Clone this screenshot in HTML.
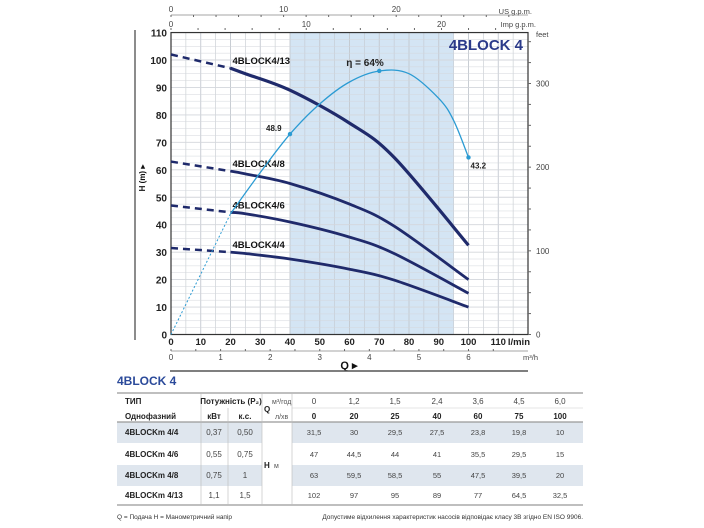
<!DOCTYPE html>
<html><head><meta charset="utf-8"><style>
body{margin:0;background:#fff;width:704px;height:528px;overflow:hidden}
svg{display:block;font-family:"Liberation Sans",sans-serif}
</style></head><body>
<svg id="chart" width="704" height="528" viewBox="0 0 704 528">
<g id="grid"></g>
<g id="marks"></g>
<g id="axes"></g>
<g id="table"></g>
</svg>
<script>
const flows = [0, 20, 25, 40, 60, 75, 100];
const flowsM3 = ["0","1,2","1,5","2,4","3,6","4,5","6,0"];
const modelNames = ["4BLOCK4/4","4BLOCK4/6","4BLOCK4/8","4BLOCK4/13"];
const head44 = [31.5, 30, 29.5, 27.5, 23.8, 19.8, 10];
const head46 = [47, 44.5, 44, 41, 35.5, 29.5, 15];
const head48 = [63, 59.5, 58.5, 55, 47.5, 39.5, 20];
const head413 = [102, 97, 95, 89, 77, 64.5, 32.5];
const effQ = [0, 20, 30, 40, 50, 60, 70, 80, 90, 95, 100];
const effH = [0, 44, 59, 73, 84, 92, 96, 95, 86, 78, 64.5];
const effLabels = ["48.9", "η = 64%", "43.2"];
const tableModels = ["4BLOCKm 4/4","4BLOCKm 4/6","4BLOCKm 4/8","4BLOCKm 4/13"];
const kw = ["0,37","0,55","0,75","1,1"];
const hp = ["0,50","0,75","1","1,5"];
const lminTicks = [0,10,20,30,40,50,60,70,80,90,100,110];
const hTicks = [0,10,20,30,40,50,60,70,80,90,100,110];
const feetTicks = [0,100,200,300];
const m3Ticks = [0,1,2,3,4,5,6];

const NS="http://www.w3.org/2000/svg";
const X0=171, PX=2.975, Y0=334.5, PY=2.745;
const xs=q=>X0+q*PX, ys=h=>Y0-h*PY;
function el(parent,tag,attrs,text){const e=document.createElementNS(NS,tag);for(const k in attrs)e.setAttribute(k,attrs[k]);if(text!==undefined)e.textContent=text;document.getElementById(parent).appendChild(e);return e;}
const DARK="#1f2a6b", LB="#2b9bd3";

let r=el("grid","rect",{x:xs(40),y:ys(110),width:xs(95)-xs(40),height:ys(0)-ys(110),fill:"#d4e5f4"});


for(let q=0;q<=120;q+=5){el("grid","line",{x1:xs(q),x2:xs(q),y1:ys(110),y2:ys(0),stroke:"#c3c8cf","stroke-width":q%10===0?0.9:0.6});}
for(let h=0;h<=110;h+=2.5){el("grid","line",{x1:xs(0),x2:xs(120),y1:ys(h),y2:ys(h),stroke:"#d3d6db","stroke-width":h%10===0?0.9:0.5});}
el("grid","rect",{x:xs(0),y:ys(110),width:xs(120)-xs(0),height:ys(0)-ys(110),fill:"none",stroke:"#333","stroke-width":1.2});

function smooth(qs,hs,from,to){const pts=[];qs.forEach((q,i)=>{if(q>=from&&q<=to)pts.push([xs(q),ys(hs[i])]);});let d="M"+pts[0][0]+","+pts[0][1];for(let i=0;i<pts.length-1;i++){const p0=pts[i-1]||pts[i],p1=pts[i],p2=pts[i+1],p3=pts[i+2]||p2;d+=" C"+(p1[0]+(p2[0]-p0[0])/6).toFixed(1)+","+(p1[1]+(p2[1]-p0[1])/6).toFixed(1)+" "+(p2[0]-(p3[0]-p1[0])/6).toFixed(1)+","+(p2[1]-(p3[1]-p1[1])/6).toFixed(1)+" "+p2[0].toFixed(1)+","+p2[1].toFixed(1);}return d;}
const heads=[head44,head46,head48,head413];
heads.forEach((hs,i)=>{
  let d=el("marks","line",{x1:xs(0),y1:ys(hs[0]),x2:xs(20),y2:ys(hs[1]),stroke:DARK,"stroke-width":2.5,"stroke-dasharray":"7,5"});
  
  
  let p=el("marks","path",{d:smooth(flows,hs,20,100),fill:"none",stroke:DARK,"stroke-width":i===3?3.2:2.8});
  
  
  let t=el("marks","text",{x:xs(20)+2,y:ys(hs[1])-4,"font-size":9.5,"font-weight":"bold",fill:"#111"},modelNames[i]);
  
  
});
let ed=el("marks","path",{d:smooth(effQ,effH,0,20),fill:"none",stroke:LB,"stroke-width":1,"stroke-dasharray":"2,2"});


let ep=el("marks","path",{d:smooth(effQ,effH,20,100),fill:"none",stroke:LB,"stroke-width":1.3});


const effPts=[[40,73,-24,-3],[70,96,-33,-5],[100,64.5,2,11]];
effPts.forEach((pp,i)=>{
  const qi=effQ.indexOf(pp[0]);const hv=effH[qi];
  let c=el("marks","circle",{cx:xs(pp[0]),cy:ys(hv),r:2.2,fill:LB});
  
  
  let t=el("marks","text",{x:xs(pp[0])+pp[2],y:ys(hv)+pp[3],"font-size":i===1?10:8,"font-weight":"bold",fill:"#222"},effLabels[i]);
  
  
});
let tt=el("marks","text",{x:523,y:50,"font-size":15,"font-weight":"bold",fill:"#2b3a8a","text-anchor":"end"},"4BLOCK 4");



hTicks.forEach(h=>{el("axes","text",{x:167,y:ys(h)+4,"font-size":10,"font-weight":"bold","text-anchor":"end",fill:"#222"},h);});
lminTicks.forEach(q=>{el("axes","text",{x:xs(q),y:345,"font-size":9.5,"font-weight":"bold","text-anchor":"middle",fill:"#222"},q);});
el("axes","text",{x:530,y:345,"font-size":9.5,"font-weight":"bold","text-anchor":"end",fill:"#222"},"l/min");
el("axes","line",{x1:xs(0),x2:xs(120),y1:351,y2:351,stroke:"#888","stroke-width":0.8});
for(let m=0;m<=6.5;m+=0.5){el("axes","line",{x1:xs(m*16.667),x2:xs(m*16.667),y1:349,y2:351,stroke:"#666"});}
m3Ticks.forEach(m=>{el("axes","text",{x:xs(m*16.667),y:360,"font-size":8,"text-anchor":"middle",fill:"#444"},m);});
el("axes","text",{x:538,y:360,"font-size":7.5,"text-anchor":"end",fill:"#444"},"m³/h");
let ql=el("axes","text",{x:349,y:369,"font-size":11,"font-weight":"bold","text-anchor":"middle",fill:"#111"},"Q   ▸");


el("axes","line",{x1:170,x2:528,y1:371,y2:371,stroke:"#555","stroke-width":1.5});
el("axes","line",{x1:135,x2:135,y1:30,y2:340,stroke:"#666","stroke-width":1.5});
let hl=el("axes","text",{x:0,y:0,"font-size":8,"font-weight":"bold","text-anchor":"middle",fill:"#111",transform:"translate(145,178) rotate(-90)"},"H (m)  ▸");


el("axes","line",{x1:xs(0),x2:xs(120),y1:15,y2:15,stroke:"#888","stroke-width":0.8});
for(let g=0;g<=30;g+=2){if(xs(g*3.785)<=529)el("axes","line",{x1:xs(g*3.785),x2:xs(g*3.785),y1:15,y2:17,stroke:"#666"});}
[0,10,20].forEach(g=>el("axes","text",{x:xs(g*3.785),y:12,"font-size":8,"text-anchor":"middle",fill:"#444"},g));
el("axes","text",{x:532,y:14,"font-size":7.5,"text-anchor":"end",fill:"#444"},"US g.p.m.");
for(let g=0;g<=26;g+=2){el("axes","line",{x1:xs(g*4.546),x2:xs(g*4.546),y1:28,y2:30,stroke:"#666"});}
[0,10,20].forEach(g=>el("axes","text",{x:xs(g*4.546),y:27,"font-size":8,"text-anchor":"middle",fill:"#444"},g));
el("axes","text",{x:536,y:27,"font-size":7.5,"text-anchor":"end",fill:"#444"},"Imp g.p.m.");
el("axes","text",{x:536,y:37,"font-size":7.5,fill:"#444"},"feet");
for(let f=0;f<=350;f+=25){el("axes","line",{x1:528,x2:531,y1:ys(f*0.3048),y2:ys(f*0.3048),stroke:"#666"});}
feetTicks.forEach(f=>el("axes","text",{x:536,y:ys(f*0.3048)+3,"font-size":8,fill:"#444"},f));

let tti=el("table","text",{x:117,y:385,"font-size":12,"font-weight":"bold",fill:"#2b4a9a"},"4BLOCK 4");


const colX=[314,354,395,437,478,519,560];
const rowY=[432,454,475,495];
[0,2].forEach(i=>{el("table","rect",{x:117,y:rowY[i]-10,width:145,height:21,fill:"#dfe6ee"});el("table","rect",{x:292,y:rowY[i]-10,width:291,height:21,fill:"#dfe6ee"});});
el("table","line",{x1:117,x2:583,y1:393,y2:393,stroke:"#999","stroke-width":1.2});
el("table","line",{x1:117,x2:583,y1:422,y2:422,stroke:"#999","stroke-width":1.2});
el("table","line",{x1:117,x2:583,y1:505,y2:505,stroke:"#999","stroke-width":1.2});
el("table","line",{x1:292,x2:583,y1:408,y2:408,stroke:"#ccc","stroke-width":0.6});
[201,228,262,292].forEach(x=>el("table","line",{x1:x,x2:x,y1:408-(x===228?0:15),y2:505,stroke:"#bbb","stroke-width":0.6}));
const T=(x,y,s,o)=>el("table","text",Object.assign({x:x,y:y,"font-size":8,fill:"#222"},o||{}),s);
T(125,404,"ТИП",{"font-weight":"bold"});
T(125,419,"Однофазний",{"font-weight":"bold"});
T(231,404,"Потужність (P₂)",{"font-weight":"bold","text-anchor":"middle"});
T(214,419,"кВт",{"font-weight":"bold","text-anchor":"middle"});
T(245,419,"к.с.",{"font-weight":"bold","text-anchor":"middle"});
T(264,412,"Q",{"font-weight":"bold"});
T(272,404,"м³/год",{"font-size":7,fill:"#555"});
T(275,419,"л/хв",{"font-size":7,fill:"#555"});
T(264,468,"H",{"font-weight":"bold"});
T(274,468,"м",{"font-size":7,fill:"#555"});
colX.forEach((x,i)=>{T(x,404,flowsM3[i],{"text-anchor":"middle",fill:"#444"});T(x,419,flows[i],{"text-anchor":"middle","font-weight":"bold"});});
tableModels.forEach((m,r)=>{
  T(125,rowY[r]+3,m,{"font-weight":"bold"});
  T(214,rowY[r]+3,kw[r],{"text-anchor":"middle",fill:"#444"});
  T(245,rowY[r]+3,hp[r],{"text-anchor":"middle",fill:"#444"});
  heads[r].forEach((h,i)=>T(colX[i],rowY[r]+3,String(h).replace('.',','),{"text-anchor":"middle",fill:"#444","font-size":7.5}));
});
T(117,519,"Q = Подача    H = Манометричний напір",{"font-size":6.5,fill:"#333"});
T(583,519,"Допустиме відхилення характеристик насосів відповідає класу 3B згідно EN ISO 9906.",{"font-size":6.5,fill:"#333","text-anchor":"end"});
</script>
</body></html>
